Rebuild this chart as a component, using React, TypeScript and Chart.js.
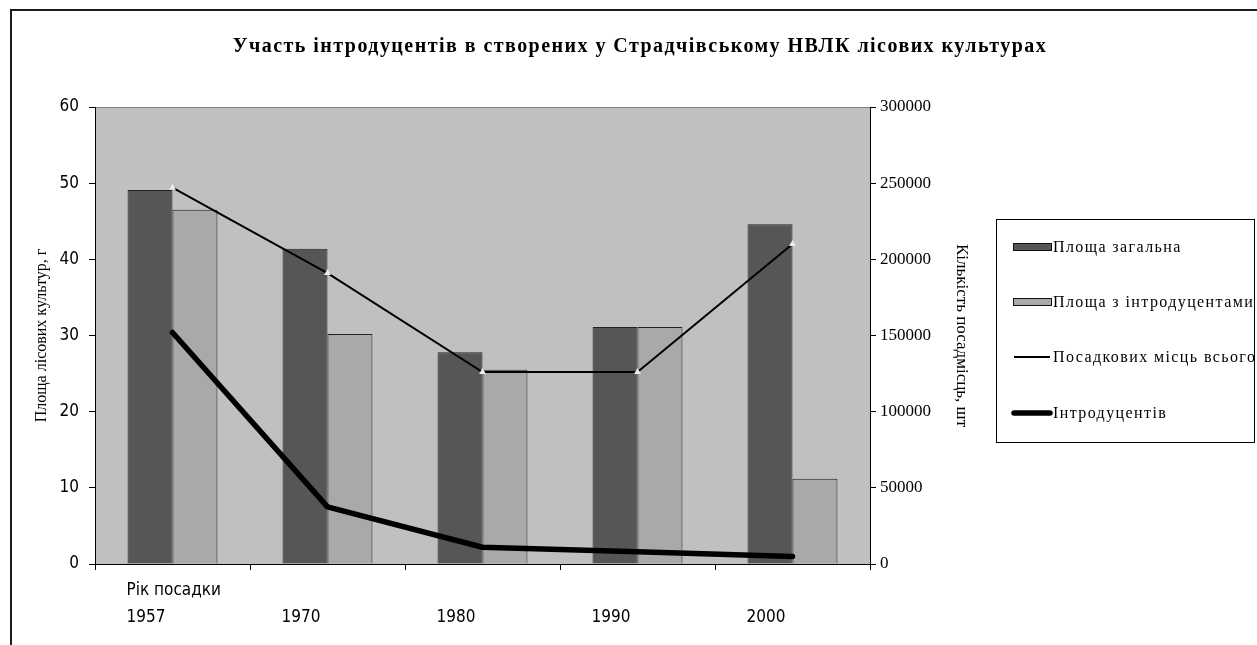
import React, { useEffect, useRef } from 'react';
import { Chart, registerables } from 'chart.js';

Chart.register(...registerables);

const chartTitle = 'Участь інтродуцентів в створених у Страдчівському НВЛК лісових культурах';
const years = ['1957', '1970', '1980', '1990', '2000'];
const xCaption = 'Рік посадки';
const seriesNames = ['Площа загальна', 'Площа з інтродуцентами', 'Посадкових місць всього', 'Інтродуцентів'];
const areaTotal = [49.1, 41.4, 27.8, 31.1, 44.6];
const areaIntro = [46.5, 30.2, 25.5, 31.1, 11.2];
const plantingTotal = [247000, 191000, 126000, 126000, 210000];
const introduced = [152000, 37500, 11000, 8000, 5000];
const leftAxisTitle = 'Площа лісових культур, г';
const rightAxisTitle = 'Кількість посадмісць, шт';

const DARK = '#565656';
const LIGHT = '#a9a9a9';
const PLOT_BG = '#c0c0c0';
const NARROW = '"Liberation Sans Narrow", "Arial Narrow", "DejaVu Sans Condensed", sans-serif';
const SERIF = '"Liberation Serif", "Times New Roman", serif';

const labels = years.map((y, i) => (i === 0 ? [xCaption, y] : ['', y]));

const decor = {
  id: 'decor',
  beforeDraw(chart: any) {
    const { ctx, chartArea: a } = chart;
    ctx.save();
    ctx.fillStyle = '#fff';
    ctx.fillRect(0, 0, chart.width, chart.height);
    ctx.fillStyle = PLOT_BG;
    ctx.fillRect(a.left, a.top, a.right - a.left, a.bottom - a.top);
    ctx.strokeStyle = '#808080';
    ctx.lineWidth = 1;
    ctx.beginPath();
    ctx.moveTo(a.left, a.top + 0.5);
    ctx.lineTo(a.right, a.top + 0.5);
    ctx.stroke();
    // outer frame
    ctx.strokeStyle = '#1a1a1a';
    ctx.lineWidth = 2;
    ctx.beginPath();
    ctx.moveTo(11, chart.height);
    ctx.lineTo(11, 10);
    ctx.lineTo(chart.width, 10);
    ctx.stroke();
    // title
    ctx.fillStyle = '#000';
    ctx.font = 'bold 20px ' + SERIF;
    const w = ctx.measureText(chartTitle).width;
    (ctx as any).letterSpacing = Math.max(0, (814 - w) / chartTitle.length).toFixed(2) + 'px';
    ctx.textAlign = 'center';
    ctx.textBaseline = 'middle';
    ctx.fillText(chartTitle, 640, 47);
    ctx.restore();
  },
  afterDraw(chart: any) {
    const { ctx } = chart;
    ctx.save();
    ctx.strokeStyle = '#000';
    ctx.lineWidth = 1;
    ctx.strokeRect(996.5, 219.5, 258, 223);
    const rows = [247, 302, 357, 413];
    ctx.font = '16px ' + SERIF;
    (ctx as any).letterSpacing = '1.4px';
    ctx.textBaseline = 'middle';
    ctx.textAlign = 'left';
    chart.data.datasets.forEach((ds: any, i: number) => {
      const y = rows[i];
      if (ds.type === 'bar') {
        ctx.fillStyle = ds.backgroundColor;
        ctx.fillRect(1013, y - 3, 38, 6);
        ctx.strokeStyle = '#111';
        ctx.lineWidth = 1;
        ctx.strokeRect(1013.5, y - 3.5, 38, 7);
      } else {
        ctx.strokeStyle = '#000';
        ctx.lineWidth = ds.borderWidth;
        ctx.lineCap = i === 3 ? 'round' : 'butt';
        ctx.beginPath();
        ctx.moveTo(1014, y);
        ctx.lineTo(1050, y);
        ctx.stroke();
      }
      ctx.fillStyle = '#000';
      ctx.fillText(ds.label, 1053, y + 1);
    });
    ctx.restore();
  },
};

export default function App() {
  const ref = useRef<HTMLCanvasElement>(null);
  useEffect(() => {
    const canvas = ref.current!;
    const chart = new Chart(canvas, {
      type: 'bar',
      data: {
        labels,
        datasets: [
          {
            type: 'bar', label: seriesNames[0], data: areaTotal, yAxisID: 'y',
            backgroundColor: DARK, borderColor: '#222', borderWidth: 1, borderSkipped: 'bottom',
            categoryPercentage: 0.58, barPercentage: 1, order: 2,
          },
          {
            type: 'bar', label: seriesNames[1], data: areaIntro, yAxisID: 'y',
            backgroundColor: LIGHT, borderColor: '#222', borderWidth: 1, borderSkipped: 'bottom',
            categoryPercentage: 0.58, barPercentage: 1, order: 2,
          },
          {
            type: 'line', label: seriesNames[2], data: plantingTotal, yAxisID: 'y2',
            borderColor: '#000', borderWidth: 2, tension: 0, fill: false,
            pointStyle: 'triangle', pointRadius: 4, pointBackgroundColor: '#ececec',
            pointBorderColor: '#ececec', pointBorderWidth: 0, order: 1,
          },
          {
            type: 'line', label: seriesNames[3], data: introduced, yAxisID: 'y2',
            borderColor: '#000', borderWidth: 5.5, tension: 0, fill: false,
            borderCapStyle: 'round', borderJoinStyle: 'round', pointRadius: 0, order: 0,
          },
        ] as any,
      },
      options: {
        responsive: false,
        animation: false,
        layout: { padding: { top: 107, left: 0, right: 277, bottom: 0 } },
        plugins: { legend: { display: false }, title: { display: false }, tooltip: { enabled: false } },
        scales: {
          x: {
            offset: true,
            grid: { display: true, offset: true, drawOnChartArea: false, drawTicks: true, tickLength: 6, color: '#000' },
            border: { display: true, color: '#000', width: 1 },
            ticks: {
              color: '#000', font: { family: NARROW, size: 17, lineHeight: 1.6 },
              align: 'start', labelOffset: -46, padding: 7, maxRotation: 0, autoSkip: false,
            },
            afterFit: (s: any) => { s.height = 81; },
          },
          y: {
            position: 'left', min: 0, max: 60,
            grid: { display: true, drawOnChartArea: false, drawTicks: true, tickLength: 6, color: '#000' },
            border: { display: true, color: '#000', width: 1 },
            ticks: { stepSize: 10, color: '#000', font: { family: NARROW, size: 17 }, padding: 10 },
            title: { display: true, text: leftAxisTitle, color: '#000', font: { family: SERIF, size: 16 }, padding: { top: 32, bottom: 0 } },
            afterFit: (s: any) => { s.width = 95; },
          },
          y2: {
            position: 'right', min: 0, max: 300000,
            grid: { display: true, drawOnChartArea: false, drawTicks: true, tickLength: 6, color: '#000' },
            border: { display: true, color: '#000', width: 1 },
            ticks: {
              stepSize: 50000, color: '#000', font: { family: SERIF, size: 17 }, padding: 4,
              callback: (v: any) => String(v),
            },
            title: { display: true, text: rightAxisTitle, color: '#000', font: { family: SERIF, size: 17 }, padding: { top: 8, bottom: 0 } },
            afterFit: (s: any) => { s.width = 110; },
          },
        },
      } as any,
      plugins: [decor],
    });
    return () => chart.destroy();
  }, []);
  return (
    <div style={{ position: 'absolute', left: 0, top: 0, width: 1257, height: 645 }}>
      <canvas ref={ref} width={1257} height={645} style={{ display: 'block' }} />
    </div>
  );
}
